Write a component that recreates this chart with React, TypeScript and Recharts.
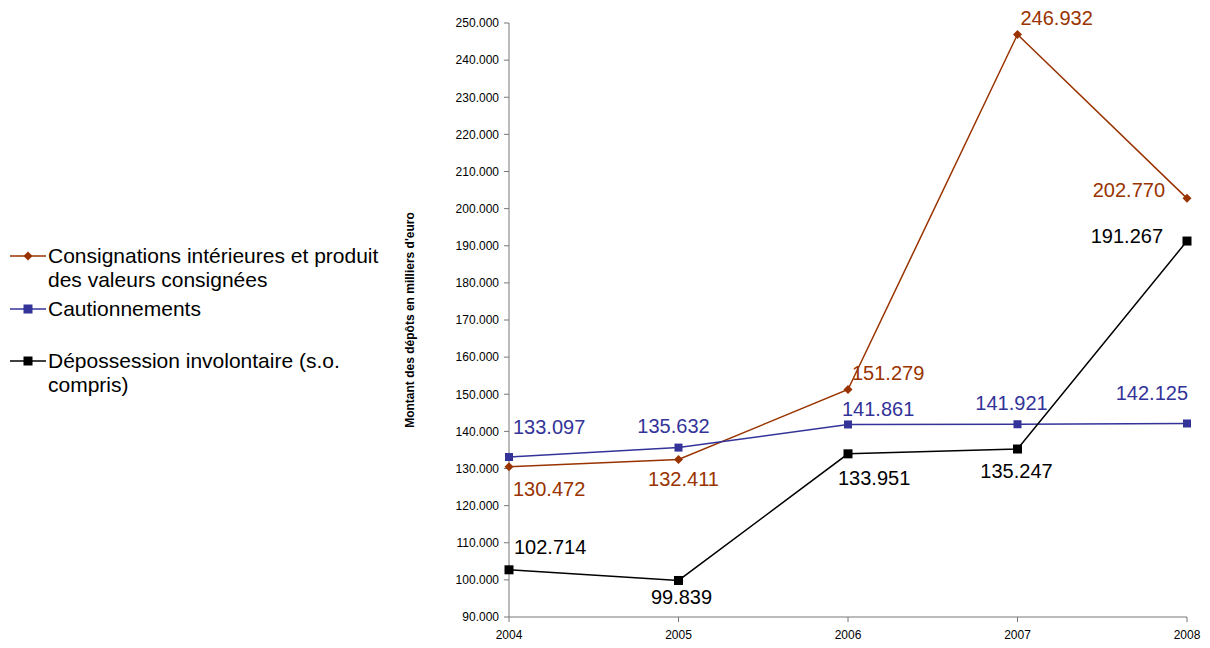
import React from "react";
import { LineChart, Line, XAxis, YAxis, LabelList } from "recharts";

const YEARS = ["2004", "2005", "2006", "2007", "2008"];
const CONSIGNATIONS = [130472, 132411, 151279, 246932, 202770];
const CAUTIONNEMENTS = [133097, 135632, 141861, 141921, 142125];
const DEPOSSESSION = [102714, 99839, 133951, 135247, 191267];
const Y_TICKS = [90000, 100000, 110000, 120000, 130000, 140000, 150000, 160000, 170000, 180000, 190000, 200000, 210000, 220000, 230000, 240000, 250000];

const SERIES_NAMES = [
    "Consignations intérieures et produit des valeurs consignées",
    "Cautionnements",
    "Dépossession involontaire (s.o. compris)",
];

const ORANGE = "#993300";
const BLUE = "#333399";
const BLACK = "#000000";
const FONT = "'Liberation Sans', Arial, sans-serif";

const data = YEARS.map((year, i) => ({
    year,
    consignations: CONSIGNATIONS[i],
    cautionnements: CAUTIONNEMENTS[i],
    depossession: DEPOSSESSION[i],
}));

const fmt = (v: number) => String(v).replace(/\B(?=(\d{3})+(?!\d))/g, ".");

// label placement per point: dx, dy from the point, text anchor
type Off = [number, number, "start" | "middle" | "end"];
const OFF_CONSIGNATIONS: Off[] = [[4, 22, "start"], [5, 19, "middle"], [4, -17, "start"], [3, -16, "start"], [-22, -8, "end"]];
const OFF_CAUTIONNEMENTS: Off[] = [[4, -30, "start"], [-5, -22, "middle"], [-6, -15, "start"], [-6, -21, "middle"], [1, -30, "end"]];
const OFF_DEPOSSESSION: Off[] = [[5, -23, "start"], [3, 17, "middle"], [-10, 24, "start"], [-1, 22, "middle"], [-24, -5, "end"]];

const makeLabel = (offs: Off[], color: string) => (props: any) => {
    const { x, y, value, index } = props;
    const [dx, dy, anchor] = offs[index];
    return (
        <text
            x={x + dx}
            y={y + dy}
            dy="0.35em"
            textAnchor={anchor}
            fill={color}
            fontSize={20}
            fontFamily={FONT}
        >
            {fmt(value)}
        </text>
    );
};

const Diamond = (props: any) => {
    const { cx, cy } = props;
    if (cx == null || cy == null) return null;
    const r = 4.5;
    return <path d={`M${cx},${cy - r}L${cx + r},${cy}L${cx},${cy + r}L${cx - r},${cy}Z`} fill={ORANGE} />;
};

const Square = (size: number, color: string) => (props: any) => {
    const { cx, cy } = props;
    if (cx == null || cy == null) return null;
    return <rect x={cx - size / 2} y={cy - size / 2} width={size} height={size} fill={color} />;
};

function LegendSymbol({ color, kind }: { color: string; kind: string }) {
    return (
        <svg width={36} height={12} style={{ position: "absolute", left: 10, top: 6 }}>
            <line x1={0} y1={6} x2={36} y2={6} stroke={color} strokeWidth={1.5} />
            {kind === "diamond" ? (
                <path d="M18,1.5L22.5,6L18,10.5L13.5,6Z" fill={color} />
            ) : (
                <rect x={13.5} y={1.5} width={9} height={9} fill={color} />
            )}
        </svg>
    );
}

export default function App() {
    const legendItems = [
        { name: SERIES_NAMES[0], color: ORANGE, kind: "diamond", top: 244 },
        { name: SERIES_NAMES[1], color: BLUE, kind: "square", top: 297 },
        { name: SERIES_NAMES[2], color: BLACK, kind: "square", top: 349 },
    ];

    return (
        <div style={{ position: "absolute", left: 0, top: 0, width: 1210, height: 648, background: "#fff" }}>
            {legendItems.map((it) => (
                <div key={it.name} style={{ position: "absolute", left: 0, top: it.top, width: 400 }}>
                    <LegendSymbol color={it.color} kind={it.kind} />
                    <div
                        style={{
                            marginLeft: 48,
                            width: 340,
                            fontFamily: FONT,
                            fontSize: 21,
                            lineHeight: "24px",
                            color: "#000",
                        }}
                    >
                        {it.name}
                    </div>
                </div>
            ))}
            <div style={{ position: "absolute", left: 0, top: 0 }}>
                <LineChart width={1210} height={648} data={data} margin={{ top: 23, right: 23, bottom: 1, left: 390 }}>
                    <XAxis
                        dataKey="year"
                        height={30}
                        tickSize={5}
                        tickMargin={8}
                        stroke="#777"
                        tick={{ fill: "#000", fontSize: 12, fontFamily: FONT }}
                        padding={{ left: 0, right: 0 }}
                    />
                    <YAxis
                        width={119}
                        domain={[90000, 250000]}
                        ticks={Y_TICKS}
                        interval={0}
                        tickFormatter={fmt}
                        tickSize={5}
                        tickMargin={5}
                        stroke="#777"
                        tick={{ fill: "#000", fontSize: 12, fontFamily: FONT }}
                        label={{
                            value: "Montant des dépôts en milliers d'euro",
                            angle: -90,
                            position: "insideLeft",
                            offset: 20,
                            style: { textAnchor: "middle", fontWeight: "bold", fontSize: 12, fontFamily: FONT, fill: "#000" },
                        }}
                    />
                    <Line
                        dataKey="consignations"
                        stroke={ORANGE}
                        strokeWidth={1.5}
                        dot={Diamond}
                        activeDot={false}
                        isAnimationActive={false}
                    >
                        <LabelList dataKey="consignations" content={makeLabel(OFF_CONSIGNATIONS, ORANGE)} />
                    </Line>
                    <Line
                        dataKey="cautionnements"
                        stroke={BLUE}
                        strokeWidth={1.5}
                        dot={Square(8, BLUE)}
                        activeDot={false}
                        isAnimationActive={false}
                    >
                        <LabelList dataKey="cautionnements" content={makeLabel(OFF_CAUTIONNEMENTS, BLUE)} />
                    </Line>
                    <Line
                        dataKey="depossession"
                        stroke={BLACK}
                        strokeWidth={1.5}
                        dot={Square(9, BLACK)}
                        activeDot={false}
                        isAnimationActive={false}
                    >
                        <LabelList dataKey="depossession" content={makeLabel(OFF_DEPOSSESSION, BLACK)} />
                    </Line>
                </LineChart>
            </div>
        </div>
    );
}
